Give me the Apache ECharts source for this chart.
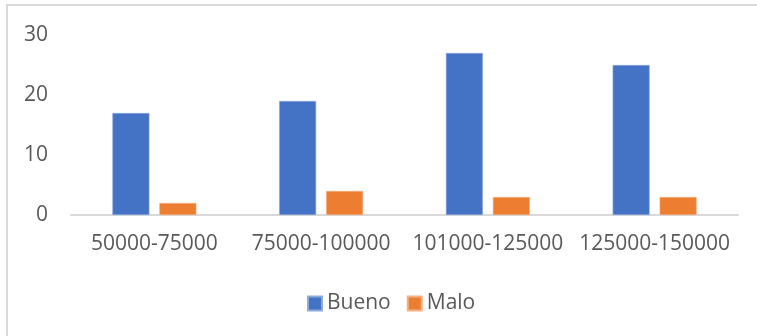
<!DOCTYPE html>
<html>
<head>
<meta charset="utf-8">
<script src="https://cdn.jsdelivr.net/npm/echarts@6/dist/echarts.min.js"></script>
<style>
  html, body { margin: 0; padding: 0; background: #fff; }
  #frame {
    position: absolute; left: 6px; top: 4px; width: 800px; height: 400px;
    border-top: 2px solid #d9d9d9; border-left: 2px solid #d9d9d9;
  }
  #chart { position: absolute; left: 0; top: 0; width: 757px; height: 336px; }
</style>
</head>
<body>
<div id="frame"></div>
<div id="chart"></div>
<script>
// Income brackets and the count of "Bueno" / "Malo" ratings in each
const categories = ['50000-75000', '75000-100000', '101000-125000', '125000-150000'];
const bueno = [17, 19, 27, 25];
const malo = [2, 4, 3, 3];
const yTicks = { min: 0, max: 30, interval: 10 };

const textColor = '#595959';
const fontFamily = '"Open Sans", "Noto Sans", sans-serif';

const chart = echarts.init(document.getElementById('chart'), null, { renderer: 'canvas' });
chart.setOption({
  animation: false,
  backgroundColor: 'transparent',
  textStyle: { fontFamily: fontFamily },
  grid: { left: 71, right: 19, top: 35, bottom: 121, containLabel: false },
  legend: {
    data: ['Bueno', 'Malo'],
    left: 307,
    top: 293,
    padding: 0,
    itemWidth: 14,
    itemHeight: 14,
    itemGap: 16,
    icon: 'rect',
    textStyle: { color: textColor, fontSize: 21, fontFamily: fontFamily }
  },
  xAxis: {
    type: 'category',
    data: categories,
    axisLine: { show: true, lineStyle: { color: '#d9d9d9', width: 2 } },
    axisTick: { show: false },
    axisLabel: { color: textColor, fontSize: 21, fontFamily: fontFamily, margin: 19, interval: 0 },
    splitLine: { show: false }
  },
  yAxis: {
    type: 'value',
    min: yTicks.min,
    max: yTicks.max,
    interval: yTicks.interval,
    axisLine: { show: false },
    axisTick: { show: false },
    splitLine: { show: false },
    axisLabel: { color: textColor, fontSize: 21, fontFamily: fontFamily, margin: 23 }
  },
  series: [
    {
      name: 'Bueno',
      type: 'bar',
      data: bueno,
      barWidth: 37,
      barGap: '27%',
      itemStyle: { color: '#4472C4', borderColor: '#8eaadb', borderWidth: 0.6 }
    },
    {
      name: 'Malo',
      type: 'bar',
      data: malo,
      barWidth: 37,
      barGap: '27%',
      itemStyle: { color: '#ED7D31', borderColor: '#f4b183', borderWidth: 0.6 }
    }
  ]
});
</script>
</body>
</html>
